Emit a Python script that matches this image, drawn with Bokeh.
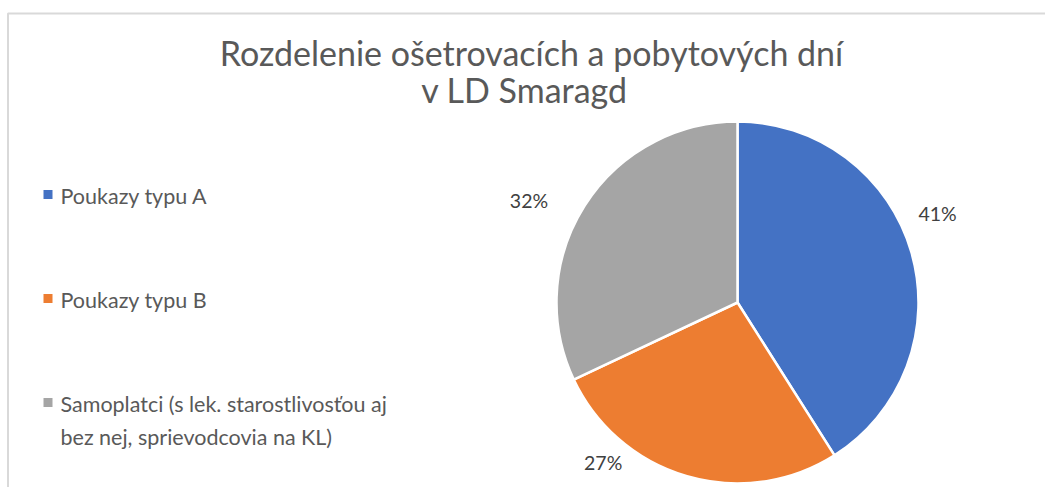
import math
from bokeh.plotting import figure
from bokeh.models import Range1d, ColumnDataSource
from bokeh.core.properties import value
from bokeh.embed import file_html
from bokeh.resources import INLINE

# ---- data ----
categories = ["Poukazy typu A", "Poukazy typu B",
              "Samoplatci (s lek. starostlivosťou aj\nbez nej, sprievodcovia na KL)"]
shares = [41, 27, 32]
colors = ["#4472C4", "#ED7D31", "#A5A5A5"]
title_lines = ["Rozdelenie ošetrovacích a pobytových dní", "v LD Smaragd"]

# ---- layout (screen pixel space of the page) ----
W, H = 1045, 487
def sy(y):  # page y (down) -> data y (up)
    return H - y

FONT = value("Lato")
cx, cy, R = 737, 302, 181
label_pos = [(66, 219), (220, 209), (296, 232)]  # (deg clockwise from top, px distance)

p = figure(width=W, height=H, output_backend="svg", toolbar_location=None,
           x_range=Range1d(0, W), y_range=Range1d(0, H),
           min_border=0, outline_line_color=None, background_fill_color="white",
           border_fill_color="white")
p.axis.visible = False
p.grid.visible = False

# frame of chart area
p.line([1060, 7.5, 7.5], [sy(13), sy(13), sy(500)], line_color="#D9D9D9", line_width=2)

# pie
total = sum(shares)
starts, ends, cum = [], [], 0.0
for v in shares:
    starts.append(math.pi / 2 - 2 * math.pi * cum / total)
    cum += v
    ends.append(math.pi / 2 - 2 * math.pi * cum / total)
src = ColumnDataSource(dict(start=starts, end=ends, color=colors))
p.wedge(x=cx, y=sy(cy), radius=R, start_angle="start", end_angle="end",
        direction="clock", fill_color="color", line_color="white", line_width=2.5,
        source=src)

# data labels
lx, ly, lt = [], [], []
for v, (ang, d) in zip(shares, label_pos):
    a = math.radians(ang)
    lx.append(cx + d * math.sin(a))
    ly.append(sy(cy - d * math.cos(a)))
    lt.append(f"{round(100 * v / total)}%")
p.text(x=lx, y=ly, text=lt, text_font=FONT, text_font_size="19.5px",
       text_color="#404040", text_align="center", text_baseline="middle")

# title
p.text(x=[531, 524], y=[sy(52), sy(89)], text=title_lines, text_font=FONT,
       text_font_size="34px", text_color="#595959", text_align="center",
       text_baseline="middle")

# legend
leg_y = [194, 298, 402]
p.scatter(x=[47.5] * 3, y=[sy(v) for v in leg_y], marker="square", size=9,
          fill_color=colors, line_color=None)
p.text(x=[60] * 3, y=[sy(v) for v in leg_y], text=categories, text_font=FONT,
       text_font_size="21.5px", text_color="#595959", text_align="left",
       text_baseline="top", y_offset=-12, text_line_height=1.3)

open("out.html", "w").write(file_html(p, INLINE))
